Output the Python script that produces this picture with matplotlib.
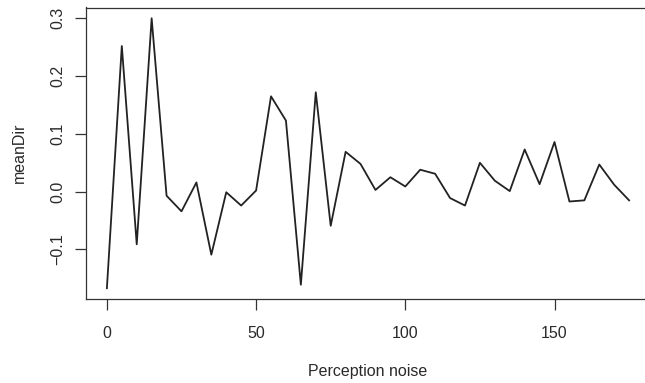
import numpy as np
import matplotlib
matplotlib.use("Agg")
import matplotlib.pyplot as plt

# perception noise levels and mean direction
noise = [0, 5, 10, 15, 20, 25, 30, 35, 40, 45, 50, 55, 60, 65, 70, 75, 80, 85,
         90, 95, 100, 105, 110, 115, 120, 125, 130, 135, 140, 145, 150, 155, 160, 165, 170, 175]
mean_dir = [-0.167, 0.252, -0.091, 0.300, -0.007, -0.034, 0.016, -0.109, -0.001, -0.024,
            0.002, 0.165, 0.123, -0.161, 0.172, -0.059, 0.069, 0.048, 0.003, 0.025,
            0.009, 0.038, 0.031, -0.011, -0.024, 0.050, 0.019, 0.001, 0.073, 0.013,
            0.086, -0.017, -0.015, 0.047, 0.012, -0.015]
x_ticks = [0, 50, 100, 150]
y_ticks = [-0.1, 0.0, 0.1, 0.2, 0.3]

plt.rcParams['font.family'] = ['Liberation Sans', 'DejaVu Sans']

fig = plt.figure(figsize=(6.45, 3.83), dpi=100)
ax = fig.add_axes([86 / 645, 84 / 383, 564 / 645, 291.5 / 383])

ax.plot(noise, mean_dir, color='#222222', lw=1.3)

# R style 4% padding
xr = max(noise) - min(noise)
yr = max(mean_dir) - min(mean_dir)
ax.set_xlim(min(noise) - 0.04 * xr, max(noise) + 0.04 * xr)
ax.set_ylim(min(mean_dir) - 0.04 * yr, max(mean_dir) + 0.04 * yr)

ax.set_xticks(x_ticks)
ax.set_yticks(y_ticks)
ax.set_yticklabels(['%.1f' % v if v >= 0 else '\u22120.1' for v in y_ticks],
                   rotation=90, va='center')
ax.tick_params(axis='both', direction='out', length=7.8, width=0.9,
               color='#333333', labelsize=11.5, labelcolor='#2a2a2a')
ax.tick_params(axis='x', pad=12)
ax.tick_params(axis='y', pad=7)

for s in ax.spines.values():
    s.set_color('#333333')
    s.set_linewidth(0.9)

ax.set_xlabel('Perception noise', fontsize=11.5, color='#2a2a2a', labelpad=16)
ax.set_ylabel('meanDir', fontsize=11.5, color='#2a2a2a', labelpad=17)

fig.savefig('out.png', dpi=100)
